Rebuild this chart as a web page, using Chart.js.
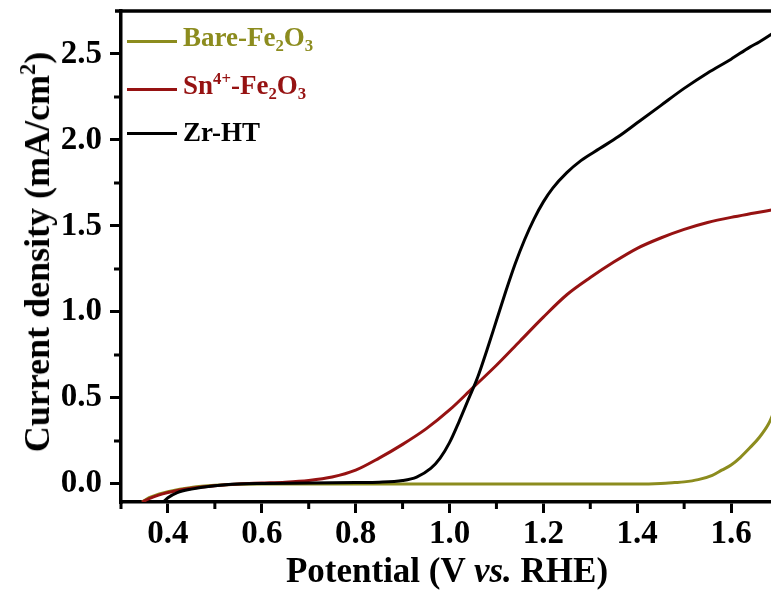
<!DOCTYPE html>
<html><head><meta charset="utf-8">
<script src="https://cdn.jsdelivr.net/npm/chart.js@4.4.1/dist/chart.umd.min.js"></script>
<style>
html,body{margin:0;padding:0;overflow:hidden;background:#fff;}
#wrap{position:relative;width:771px;height:596px;overflow:hidden;background:#fff;}
#c{position:absolute;left:0;top:0;}
.t{position:absolute;font-family:"Liberation Serif","Times New Roman",serif;font-weight:bold;white-space:nowrap;line-height:1;color:#000;}
.sub{font-size:62%;position:relative;top:0.32em;}
.sup{font-size:62%;position:relative;top:-0.62em;}
.ln{position:absolute;height:3px;width:50px;left:127px;}
</style></head>
<body><div id="wrap">
<canvas id="c" width="790" height="596"></canvas>
<div class="ln" style="top:40px;background:#8c8c1e"></div>
<div class="ln" style="top:88px;background:#961212"></div>
<div class="ln" style="top:132px;background:#000"></div>
<div class="t" id="lg0" style="left:183px;top:24px;font-size:27px;color:#8c8c1e">Bare-Fe<span class="sub">2</span>O<span class="sub">3</span></div>
<div class="t" id="lg1" style="left:183px;top:72px;font-size:27px;color:#961212">Sn<span class="sup">4+</span>-Fe<span class="sub">2</span>O<span class="sub">3</span></div>
<div class="t" id="lg2" style="left:183px;top:119px;font-size:27px;color:#000">Zr-HT</div>
<div class="t" id="ytitle" style="left:37px;top:252px;font-size:36px;transform:translate(-50%,-50%) rotate(-90deg);">Current density (mA/cm<span class="sup">2</span>)</div>
<div class="t" id="xtitle" style="left:447px;top:553px;font-size:35px;transform:translateX(-50%);">Potential (V <i>vs.</i> RHE)</div>
</div>
<script>
const bareV = [0.345,0.36,0.38,0.40,0.45,0.50,0.60,0.80,1.00,1.20,1.40,1.45,1.48,1.50,1.53,1.56,1.58,1.60,1.62,1.64,1.66,1.68,1.69,1.70];
const bareJ = [-0.105,-0.08,-0.06,-0.045,-0.02,-0.008,0.0,0.0,0.0,0.0,0.0,0.003,0.008,0.012,0.025,0.05,0.08,0.11,0.155,0.21,0.27,0.35,0.41,0.47];
const snV = [0.345,0.36,0.38,0.40,0.42,0.45,0.50,0.55,0.60,0.65,0.70,0.75,0.80,0.85,0.90,0.95,1.00,1.05,1.10,1.15,1.20,1.25,1.30,1.35,1.40,1.45,1.50,1.55,1.60,1.65,1.70];
const snJ = [-0.105,-0.085,-0.065,-0.05,-0.038,-0.025,-0.01,0.0,0.005,0.01,0.02,0.04,0.08,0.15,0.23,0.32,0.43,0.56,0.69,0.83,0.97,1.10,1.20,1.29,1.37,1.43,1.48,1.52,1.55,1.575,1.60];
const zrV = [0.39,0.40,0.42,0.45,0.50,0.55,0.60,0.70,0.80,0.85,0.90,0.93,0.96,0.98,1.00,1.02,1.04,1.06,1.08,1.10,1.12,1.14,1.16,1.18,1.20,1.22,1.25,1.28,1.32,1.36,1.40,1.45,1.50,1.55,1.60,1.64,1.66,1.70];
const zrJ = [-0.105,-0.08,-0.05,-0.03,-0.01,0.0,0.003,0.005,0.008,0.01,0.02,0.04,0.09,0.15,0.24,0.36,0.49,0.62,0.78,0.95,1.12,1.28,1.42,1.54,1.64,1.72,1.81,1.88,1.95,2.02,2.10,2.20,2.30,2.39,2.47,2.54,2.57,2.64];
const xMajorTicks = [0.4,0.6,0.8,1.0,1.2,1.4,1.6];
const xMinorTicks = [0.3,0.5,0.7,0.9,1.1,1.3,1.5,1.7];
const yMajorTicks = [0.0,0.5,1.0,1.5,2.0,2.5];
const yMinorTicks = [0.25,0.75,1.25,1.75,2.25];
const seriesNames = ['Bare-Fe2O3','Sn4+-Fe2O3','Zr-HT'];
const seriesColors = ['#8c8c1e','#961212','#000000'];

const pts = (V,J) => V.map((v,i)=>({x:v,y:J[i]}));
const frame = {
  id:'frame',
  afterDraw(chart){
    const {ctx, chartArea:a, scales:{x,y}} = chart;
    ctx.save();
    ctx.strokeStyle='#000'; ctx.lineWidth=3.5;
    ctx.beginPath(); ctx.moveTo(a.left-6, a.top); ctx.lineTo(a.right, a.top); ctx.stroke();
    ctx.lineWidth=3;
    ctx.beginPath();
    xMinorTicks.forEach(v=>{const px=x.getPixelForValue(v); ctx.moveTo(px,a.bottom); ctx.lineTo(px,a.bottom+7);});
    yMinorTicks.forEach(v=>{const py=y.getPixelForValue(v); ctx.moveTo(a.left,py); ctx.lineTo(a.left-7,py);});
    ctx.stroke();
    ctx.restore();
  }
};
const font = {family:'"Liberation Serif","Times New Roman",serif', weight:'bold', size:33};
new Chart(document.getElementById('c'), {
  type:'line',
  data:{datasets:[
    {label:seriesNames[0], data:pts(bareV,bareJ), borderColor:seriesColors[0], borderWidth:3, pointRadius:0, cubicInterpolationMode:'monotone', order:2},
    {label:seriesNames[1], data:pts(snV,snJ), borderColor:seriesColors[1], borderWidth:3, pointRadius:0, cubicInterpolationMode:'monotone', order:1},
    {label:seriesNames[2], data:pts(zrV,zrJ), borderColor:seriesColors[2], borderWidth:3, pointRadius:0, cubicInterpolationMode:'monotone', order:0}
  ]},
  options:{
    responsive:false, animation:false, devicePixelRatio:1,
    layout:{padding:{left:0,top:11,right:12,bottom:0}},
    plugins:{legend:{display:false}, tooltip:{enabled:false}},
    scales:{
      x:{type:'linear', min:0.3, max:1.7,
        afterBuildTicks:s=>{s.ticks = xMajorTicks.map(v=>({value:v}));},
        afterFit:s=>{s.height=94; s.paddingLeft=0; s.paddingRight=0;},
        ticks:{font, color:'#000', padding:2, maxRotation:0, autoSkip:false, callback:v=>v.toFixed(1)},
        grid:{display:true, drawOnChartArea:false, drawTicks:true, tickLength:11, lineWidth:3, color:'#000'},
        border:{display:true, width:3.5, color:'#000'}
      },
      y:{type:'linear', min:-0.105, max:2.75,
        afterBuildTicks:s=>{s.ticks = yMajorTicks.map(v=>({value:v}));},
        afterFit:s=>{s.width=121; s.paddingTop=0; s.paddingBottom=0;},
        ticks:{font, color:'#000', padding:8, autoSkip:false, callback:v=>v.toFixed(1)},
        grid:{display:true, drawOnChartArea:false, drawTicks:true, tickLength:11, lineWidth:3, color:'#000'},
        border:{display:true, width:3.5, color:'#000'}
      }
    }
  },
  plugins:[frame]
});
</script>
</body></html>
